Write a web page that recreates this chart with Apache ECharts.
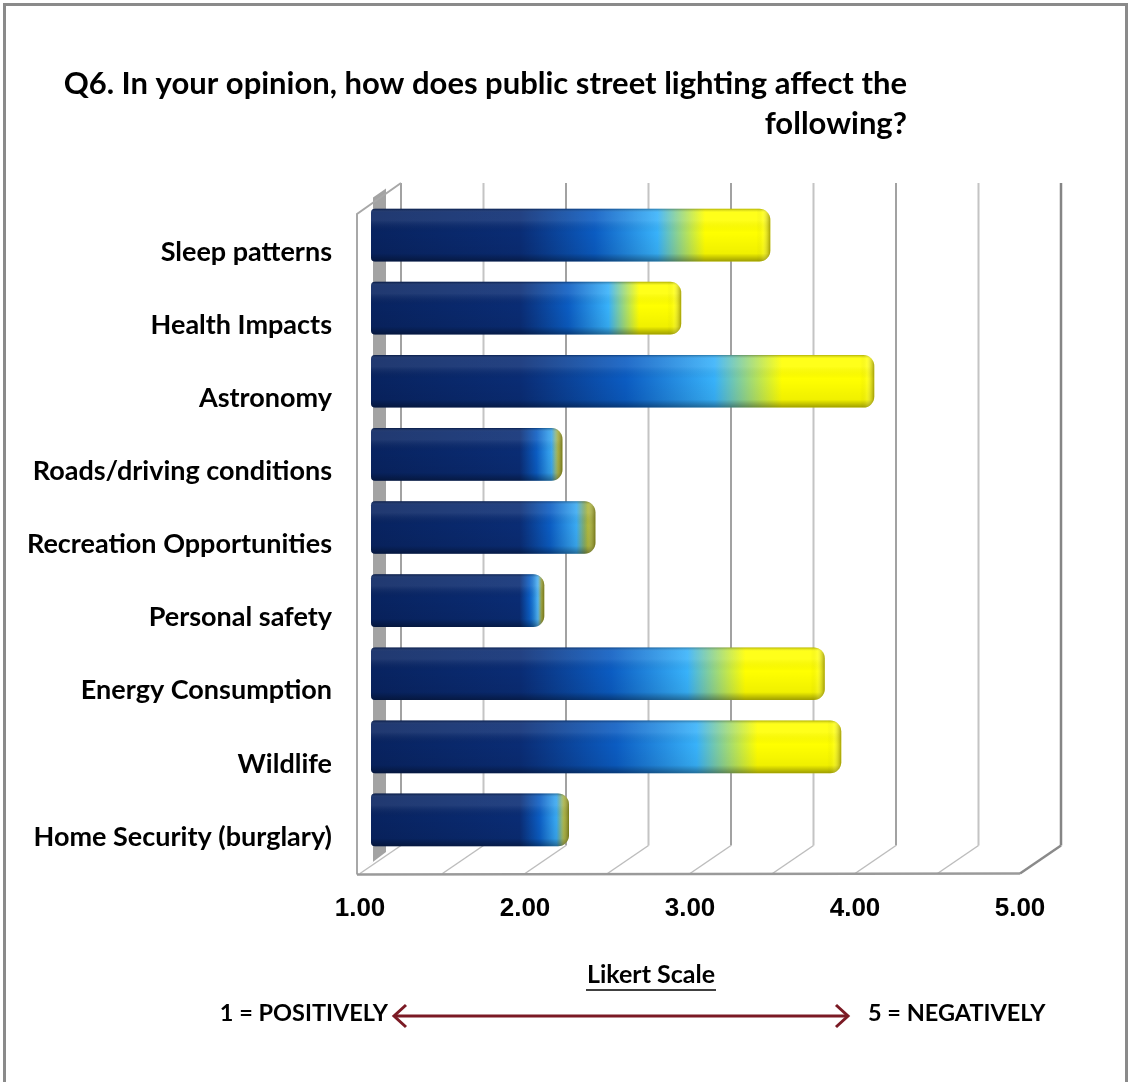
<!DOCTYPE html>
<html>
<head>
<meta charset="utf-8">
<script src="https://cdn.jsdelivr.net/npm/echarts@6/dist/echarts.min.js"></script>
<style>
  html, body { margin: 0; padding: 0; background: #ffffff; }
  #chart { width: 1131px; height: 1082px; }
</style>
</head>
<body>
<div id="chart"></div>
<script>
// ---- data ----
const categories = [
  'Sleep patterns',
  'Health Impacts',
  'Astronomy',
  'Roads/driving conditions',
  'Recreation Opportunities',
  'Personal safety',
  'Energy Consumption',
  'Wildlife',
  'Home Security (burglary)'
];
const values = [3.42, 2.88, 4.05, 2.16, 2.36, 2.05, 3.75, 3.85, 2.20];
const axisMin = 1;
const axisMax = 5;
const axisInterval = 1;
const gridStep = 0.5;
const titleLines = ['Q6. In your opinion, how does public street lighting affect the', 'following?'];
const scaleTitle = 'Likert Scale';
const leftNote = '1 = POSITIVELY';
const rightNote = '5 = NEGATIVELY';

// ---- styling constants ----
const CAL = 'Lato, "Open Sans", sans-serif';
const BACK = [30, -20.5];   // offset from bar plane to back wall
const FRONT = [-11, 7.5];   // offset from bar plane to front edge
const TOP_PAD = 5;          // frame top above grid top (bar plane)
const BOT_PAD = 9.5;        // frame bottom below grid bottom (bar plane)

const chart = echarts.init(document.getElementById('chart'));

function renderFrame(params, api) {
  const cs = params.coordSys;
  const yTop = cs.y + TOP_PAD;
  const yBot = cs.y + cs.height + BOT_PAD;
  const children = [];
  const X = v => api.coord([v, 0])[0];
  const x1 = X(axisMin), x5 = X(axisMax);
  // left-wall grey strip
  children.push({
    type: 'polygon',
    shape: { points: [
      [x1 + 2, yTop - 6], [x1 + 15, yTop - 15], [x1 + 15, yBot - 14],
      [x1 - 6, yBot + 2], [x1 + 2, yBot - 4]
    ] },
    style: { fill: '#a3a3a3' }
  });
  // back wall gridlines + floor diagonals
  for (let v = axisMin; v <= axisMax + 1e-9; v += gridStep) {
    const xb = X(v) + BACK[0];
    const xf = X(v) + FRONT[0];
    const major = Math.abs(v - Math.round(v)) < 1e-9;
    const last = Math.abs(v - axisMax) < 1e-9;
    children.push({
      type: 'polyline',
      shape: { points: [[xb, yTop + BACK[1]], [xb, yBot + BACK[1]]] },
      style: { stroke: last ? '#858585' : (major ? '#a2a2a2' : '#c4c4c4'), lineWidth: last ? 2.5 : 2, fill: null }
    });
    children.push({
      type: 'line',
      shape: { x1: xb, y1: yBot + BACK[1], x2: xf, y2: yBot + FRONT[1] },
      style: { stroke: last ? '#8a8a8a' : '#bdbdbd', lineWidth: last ? 2.5 : 1.5 }
    });
  }
  // left wall outline
  children.push({
    type: 'polyline',
    shape: { points: [
      [x1 + BACK[0], yTop + BACK[1]], [x1 + FRONT[0] - 3, yTop + FRONT[1] + 3],
      [x1 + FRONT[0] - 3, yBot + FRONT[1] + 1]
    ] },
    style: { stroke: '#a8a8a8', lineWidth: 2, fill: null }
  });
  // floor front edge
  children.push({
    type: 'line',
    shape: { x1: x1 + FRONT[0] - 3, y1: yBot + FRONT[1] + 1, x2: x5 + FRONT[0], y2: yBot + FRONT[1] },
    style: { stroke: '#9a9a9a', lineWidth: 2.5 }
  });
  return { type: 'group', children: children };
}

function barStops(v) {
  const darkEnd = Math.min(1.9, v - 0.12);
  const R = v - darkEnd;
  const L = v - axisMin;
  const f = t => Math.max(0, Math.min(1, (t - axisMin) / L));
  if (R < 0.5) {
    return [
      { offset: 0, color: '#082360' },
      { offset: f(darkEnd), color: '#0a2c74' },
      { offset: f(darkEnd + 0.4 * R), color: '#0b5cc2' },
      { offset: f(darkEnd + 0.75 * R), color: '#3aaaf2' },
      { offset: f(darkEnd + 0.9 * R), color: '#a6b02c' },
      { offset: 1, color: '#a6b02c' }
    ];
  }
  return [
    { offset: 0, color: '#082360' },
    { offset: f(darkEnd), color: '#0a2c74' },
    { offset: f(darkEnd + 0.3 * R), color: '#0b5cc2' },
    { offset: f(darkEnd + 0.55 * R), color: '#38b2fa' },
    { offset: f(darkEnd + 0.74 * R), color: '#ffff00' },
    { offset: 1, color: '#ffff00' }
  ];
}

function renderBar(params, api) {
  const v = api.value(0);
  const ci = api.value(1);
  const p0 = api.coord([axisMin, ci]);
  const p1 = api.coord([v, ci]);
  const h = api.size([0, 1])[1] * 0.72;
  const x = p0[0], y = p0[1] - h / 2, w = p1[0] - p0[0];
  const r = [4, 11, 11, 4];
  return {
    type: 'group',
    children: [
      {
        type: 'rect',
        shape: { x: x, y: y, width: w, height: h, r: r },
        style: { fill: new echarts.graphic.LinearGradient(0, 0, 1, 0, barStops(v)) }
      },
      {
        type: 'rect',
        shape: { x: x, y: y, width: w, height: h, r: r },
        style: {
          fill: new echarts.graphic.LinearGradient(0, 0, 0, 1, [
            { offset: 0, color: 'rgba(0,0,0,0.30)' },
            { offset: 0.07, color: 'rgba(255,255,255,0.10)' },
            { offset: 0.22, color: 'rgba(255,255,255,0.10)' },
            { offset: 0.45, color: 'rgba(0,0,0,0)' },
            { offset: 0.85, color: 'rgba(0,0,0,0.06)' },
            { offset: 1, color: 'rgba(0,0,0,0.38)' }
          ])
        }
      },
      {
        type: 'rect',
        shape: { x: x + w - 14, y: y, width: 14, height: h, r: [0, 11, 11, 0] },
        style: {
          fill: new echarts.graphic.LinearGradient(0, 0, 1, 0, [
            { offset: 0, color: 'rgba(0,0,0,0)' },
            { offset: 0.45, color: 'rgba(255,255,255,0.08)' },
            { offset: 1, color: 'rgba(60,50,0,0.45)' }
          ])
        }
      }
    ]
  };
}

const option = {
  animation: false,
  backgroundColor: '#ffffff',
  title: {
    text: titleLines.join('\n'),
    left: 902,
    top: 59,
    textAlign: 'right',
    textStyle: { fontFamily: CAL, fontWeight: 'bold', fontSize: 31, lineHeight: 40, color: '#000000', align: 'right' }
  },
  grid: { left: 371, right: 100, top: 198.5, bottom: 225.5, containLabel: false },
  xAxis: {
    type: 'value',
    min: axisMin,
    max: axisMax,
    interval: axisInterval,
    axisLine: { show: false },
    axisTick: { show: false },
    splitLine: { show: false },
    axisLabel: {
      margin: 39,
      formatter: v => v.toFixed(2),
      fontFamily: '"Liberation Sans", Arial, sans-serif',
      fontWeight: 'bold',
      fontSize: 26,
      color: '#000000',
      padding: [0, 22, 0, 0]
    }
  },
  yAxis: {
    type: 'category',
    data: categories,
    inverse: true,
    axisLine: { show: false },
    axisTick: { show: false },
    splitLine: { show: false },
    axisLabel: {
      margin: 39,
      fontFamily: CAL,
      fontWeight: 'bold',
      fontSize: 27,
      color: '#000000',
      verticalAlign: 'top',
      lineHeight: 34
    }
  },
  series: [
    {
      type: 'custom',
      z: 1,
      silent: true,
      renderItem: renderFrame,
      data: [[axisMin, 0]],
      encode: { x: 0, y: 1 }
    },
    {
      type: 'custom',
      z: 2,
      renderItem: renderBar,
      data: values.map((v, i) => [v, i]),
      encode: { x: 0, y: 1 }
    }
  ],
  graphic: [
    {
      type: 'rect',
      shape: { x: 4.5, y: 4.5, width: 1122, height: 1110 },
      style: { fill: null, stroke: '#8a8a8a', lineWidth: 3 },
      silent: true
    },
    {
      type: 'text',
      style: {
        text: scaleTitle, x: 651, y: 975, align: 'center', verticalAlign: 'middle',
        font: 'bold 25px ' + CAL, fill: '#000000'
      }
    },
    {
      type: 'line',
      shape: { x1: 586, y1: 990, x2: 716, y2: 990 },
      style: { stroke: '#000000', lineWidth: 1.5 }
    },
    {
      type: 'text',
      style: {
        text: leftNote, x: 388, y: 1013, align: 'right', verticalAlign: 'middle',
        font: 'bold 23.5px ' + CAL, fill: '#000000'
      }
    },
    {
      type: 'text',
      style: {
        text: rightNote, x: 868, y: 1013, align: 'left', verticalAlign: 'middle',
        font: 'bold 23.5px ' + CAL, fill: '#000000'
      }
    },
    {
      type: 'group',
      children: [
        { type: 'line', shape: { x1: 394, y1: 1016, x2: 848, y2: 1016 }, style: { stroke: '#7b1a24', lineWidth: 3 } },
        { type: 'polyline', shape: { points: [[406, 1005], [394, 1016], [406, 1027]] }, style: { stroke: '#7b1a24', lineWidth: 3, fill: null } },
        { type: 'polyline', shape: { points: [[836, 1005], [848, 1016], [836, 1027]] }, style: { stroke: '#7b1a24', lineWidth: 3, fill: null } }
      ]
    }
  ]
};
chart.setOption(option);
</script>
</body>
</html>
